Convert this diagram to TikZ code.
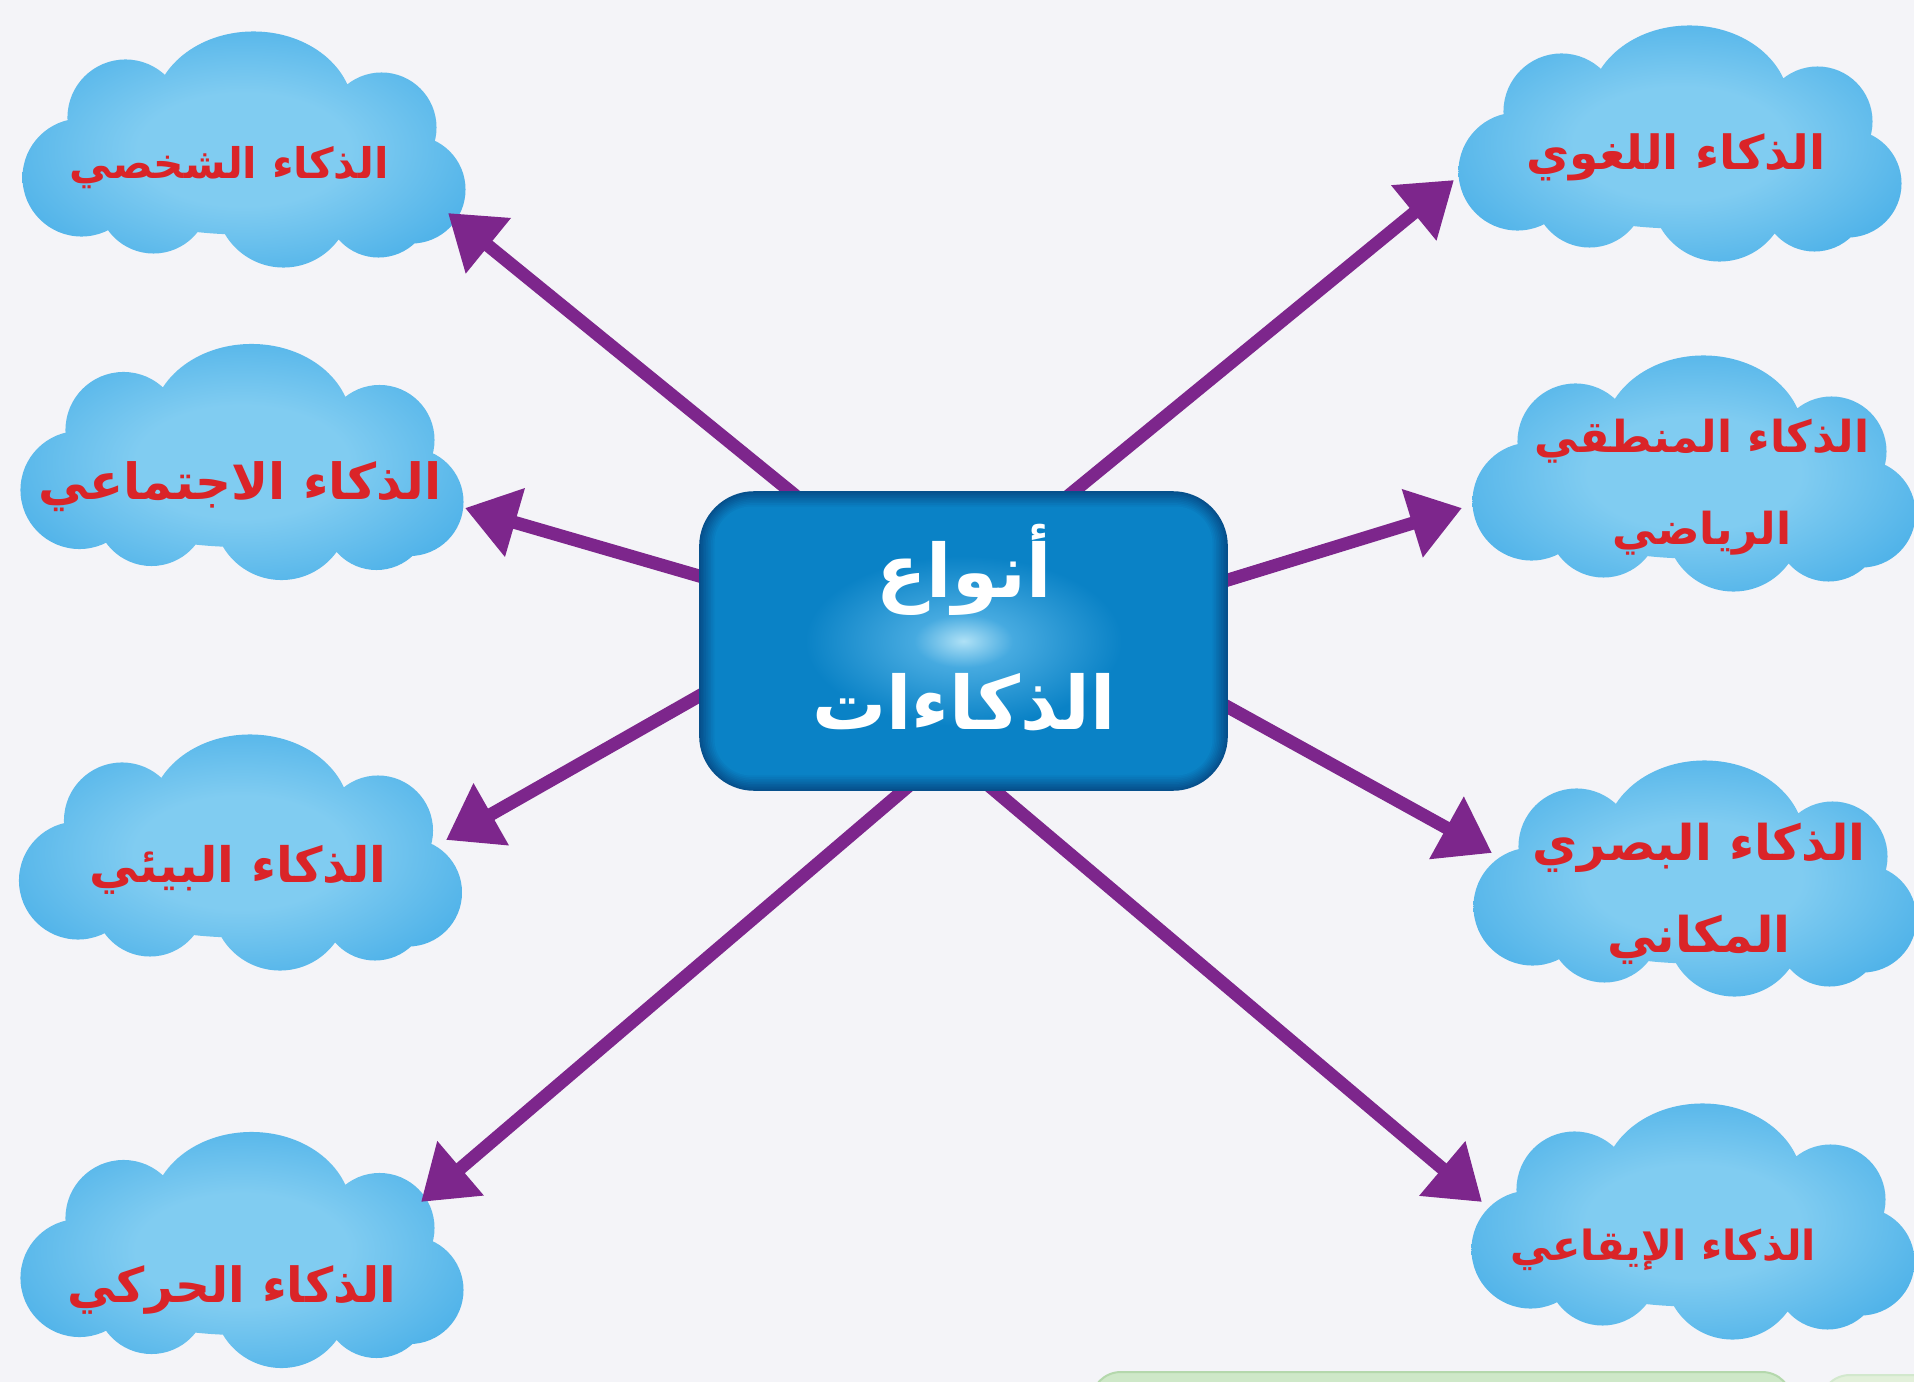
\documentclass[tikz,border=0pt]{standalone}
\usepackage{fontspec}
\usetikzlibrary{arrows.meta,calc}
\TeXXeTstate=1
\newfontfamily\arabicfont[Script=Arabic]{DejaVu Sans}
\definecolor{bg}{RGB}{244,244,248}
\definecolor{arrowpurple}{RGB}{125,38,140}
\definecolor{cloudA}{RGB}{128,204,241}
\definecolor{cloudB}{RGB}{52,164,228}
\definecolor{cloudC}{RGB}{16,140,214}
\definecolor{textred}{RGB}{218,36,40}
\definecolor{boxmain}{RGB}{10,130,198}
\definecolor{boxedge}{RGB}{6,80,140}
\definecolor{boxglow}{RGB}{175,225,246}
\definecolor{boxglowmid}{RGB}{70,170,224}
\definecolor{greenA}{RGB}{206,232,200}
\definecolor{greenB}{RGB}{180,216,172}
\definecolor{greenC}{RGB}{226,240,218}
\pgfdeclareradialshading{cloudshade}{\pgfpoint{0bp}{0bp}}{color(0bp)=(cloudA); color(12bp)=(cloudA); color(38bp)=(cloudB); color(50bp)=(cloudC)}
\pgfdeclareradialshading{boxshade}{\pgfpoint{0bp}{0bp}}{color(0bp)=(boxglow); color(5bp)=(boxglowmid); color(16bp)=(boxmain); color(50bp)=(boxmain)}
\newcommand\mycloud[2]{%
  \begin{scope}[shift={(#1,#2)}]
    \shade[shading=cloudshade]
      (-162,28) circle[radius=0.59cm]
      (-118,-32) circle[radius=0.58cm]
      (10,-37) ellipse[x radius=1.00cm, y radius=0.81cm]
      (138,-22) circle[radius=0.55cm]
      (168,40) circle[radius=0.54cm]
      (-90,48) circle[radius=0.56cm]
      (40,50) circle[radius=0.68cm]
      (135,55) circle[radius=0.53cm]
      (0,15) ellipse[x radius=1.75cm, y radius=0.70cm];
  \end{scope}}
\tikzset{
  lbl/.style={text=textred, inner sep=0pt, align=center},
  fs/.style={font=\arabicfont\bfseries\fontsize{#1}{26}\selectfont},
  boxtxt/.style={text=white, font=\arabicfont\bfseries\fontsize{21}{30}\selectfont, inner sep=0pt},
  arr/.style={draw=arrowpurple, line width=0.13cm, -{Triangle[length=0.52cm, width=0.68cm]}}
}
\begin{document}
\begin{tikzpicture}[x=0.01cm,y=-0.01cm]
\useasboundingbox (0,0) rectangle (1914,1382);
\fill[bg] (0,0) rectangle (1914,1382);
% partial green panels at the bottom edge
\begin{scope}
  \clip (0,0) rectangle (1914,1382);
  \fill[greenA, draw=greenB, line width=0.02cm, rounded corners=0.3cm] (1091,1372) rectangle (1792,1460);
  \fill[greenC, draw=greenB!60!white, line width=0.02cm, rounded corners=0.3cm] (1820,1375) rectangle (1990,1460);
\end{scope}
% clouds
\mycloud{243.5}{149.5}
\mycloud{241.5}{462}
\mycloud{240}{852.5}
\mycloud{241.5}{1250}
\mycloud{1679.5}{143.5}
\mycloud{1693.5}{473.5}
\mycloud{1694.5}{878.5}
\mycloud{1692.5}{1221.5}
% cloud labels
\node[lbl, fs=12] (n1) at (229,168) {\beginR الذكاء الشخصي\endR};
\node[lbl, fs=14.2] (n2) at (240,487) {\beginR الذكاء الاجتماعي\endR};
\node[lbl, fs=13.9] (n3) at (238,870) {\beginR الذكاء البيئي\endR};
\node[lbl, fs=13.8] (n4) at (232,1290) {\beginR الذكاء الحركي\endR};
\node[lbl, fs=13.4] (n5) at (1676,157) {\beginR الذكاء اللغوي\endR};
\node[lbl, fs=12.5] (n6) at (1702,487) {\beginR الذكاء المنطقي\endR\\\beginR الرياضي\endR};
\node[lbl, fs=14] (n7) at (1699,894) {\beginR الذكاء البصري\endR\\\beginR المكاني\endR};
\node[lbl, fs=11.8] (n8) at (1663,1250) {\beginR الذكاء الإيقاعي\endR};
% central box (geometry)
\node[minimum width=5.27cm, minimum height=2.98cm, inner sep=0pt] (box) at (963.5,641) {};
% arrow ends
\coordinate (t1) at (448,213);
\coordinate (t2) at (465,508);
\coordinate (t3) at (446,840);
\coordinate (t4) at (421,1202);
\coordinate (t5) at (1454,180);
\coordinate (t6) at (1462,508);
\coordinate (t7) at (1492,853);
\coordinate (t8) at (1482,1202);
\coordinate (s1) at ($(box.north)+(-173.5,0)$);
\coordinate (s2) at ($(box.west)+(0,-65)$);
\coordinate (s3) at ($(box.west)+(0,55)$);
\coordinate (s4) at ($(box.south)+(-60.5,0)$);
\coordinate (s5) at ($(box.north)+(110.5,0)$);
\coordinate (s6) at ($(box.east)+(0,-61)$);
\coordinate (s7) at ($(box.east)+(0,66)$);
\coordinate (s8) at ($(box.south)+(31.5,0)$);
\foreach \k in {1,...,8}{
  \draw[arr] ($(s\k)!-0.04!(t\k)$) -- (t\k);
}
% central box drawing
\fill[boxedge, rounded corners=0.55cm] (box.south west) rectangle (box.north east);
\foreach \i in {1,...,9}{
  \pgfmathtruncatemacro\pp{\i*11}
  \fill[boxmain!\pp!boxedge, rounded corners=0.55cm-\i*0.02cm] ($(box.south west)+(\i*1.7,-\i*1.7)$) rectangle ($(box.north east)+(-\i*1.7,\i*1.7)$);
}
\shade[shading=boxshade, rounded corners=0.38cm] ($(box.south west)+(17,-17)$) rectangle ($(box.north east)+(-17,17)$);
\node[boxtxt] (bt1) at (964,570) {\beginR أنواع\endR};
\node[boxtxt] (bt2) at (964,702) {\beginR الذكاءات\endR};
\end{tikzpicture}
\end{document}
